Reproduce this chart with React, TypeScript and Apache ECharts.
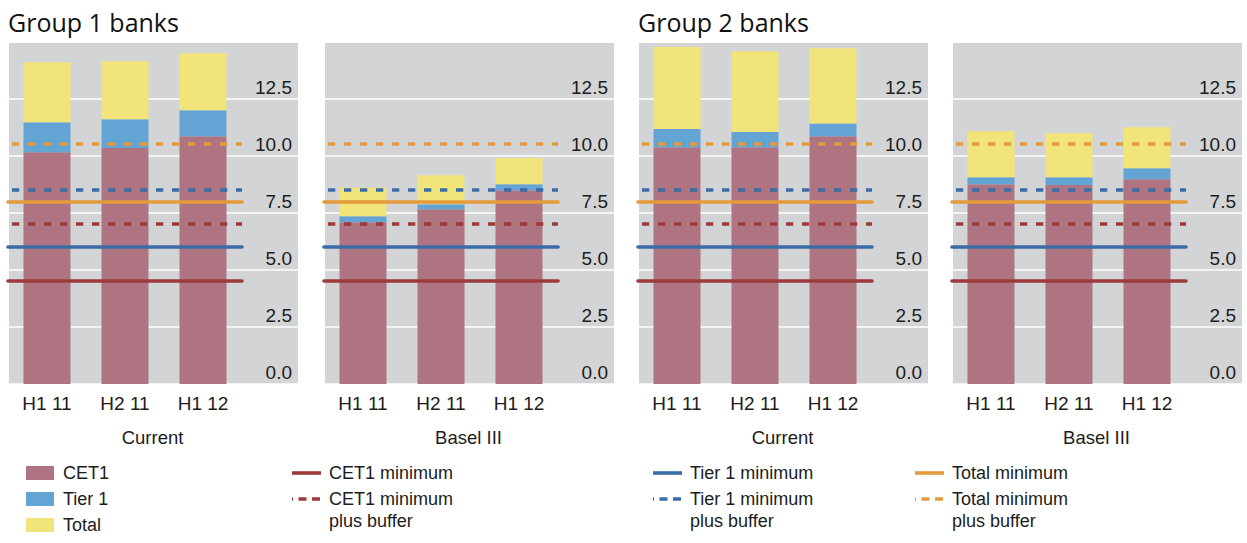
import React, { useEffect, useRef } from "react";
import * as echarts from "echarts";

// ---- data ----
const CATEGORIES = ["H1 11", "H2 11", "H1 12"];
const GROUP_TITLES = ["Group 1 banks", "Group 2 banks"];
const PANEL_NAMES = ["Current", "Basel III", "Current", "Basel III"];
const Y_TICKS = [0, 2.5, 5, 7.5, 10, 12.5];

// cumulative capital ratio levels (%)
const G1_CURRENT_CET1 = [10.15, 10.33, 10.85];
const G1_CURRENT_TIER1 = [11.46, 11.59, 11.99];
const G1_CURRENT_TOTAL = [14.09, 14.13, 14.48];
const G1_BASEL_CET1 = [7.08, 7.65, 8.48];
const G1_BASEL_TIER1 = [7.35, 7.87, 8.75];
const G1_BASEL_TOTAL = [8.6, 9.14, 9.89];
const G2_CURRENT_CET1 = [10.37, 10.37, 10.85];
const G2_CURRENT_TIER1 = [11.16, 11.03, 11.4];
const G2_CURRENT_TOTAL = [14.75, 14.57, 14.7];
const G2_BASEL_CET1 = [8.75, 8.71, 8.97];
const G2_BASEL_TIER1 = [9.05, 9.05, 9.45];
const G2_BASEL_TOTAL = [11.07, 10.98, 11.24];

// regulatory thresholds (%)
const CET1_MIN = 4.5;
const CET1_MIN_BUFFER = 7.0;
const TIER1_MIN = 6.0;
const TIER1_MIN_BUFFER = 8.5;
const TOTAL_MIN = 8.0;
const TOTAL_MIN_BUFFER = 10.5;

const BAR_NAMES = ["CET1", "Tier 1", "Total"];
const LINE_NAMES = ["CET1 minimum", "CET1 minimum\nplus buffer", "Tier 1 minimum", "Tier 1 minimum\nplus buffer", "Total minimum", "Total minimum\nplus buffer"];

// ---- styles ----
const C_CET1 = "#AE7482";
const C_TIER1 = "#63A4D4";
const C_TOTAL = "#F0E47B";
const C_RED = "#9C3A3C";
const C_BLUE = "#3B6CA7";
const C_ORANGE = "#E39B3B";
const C_BG = "#D3D4D6";
const C_TEXT = "#1c1c1c";
const FONT = "Liberation Sans, Arial, sans-serif";

const Y_MAX = 14.93;
const PANEL_LEFTS = [9, 325, 639, 953];
const PANEL_WIDTH = 289;
const GRID_TOP = 43;
const GRID_HEIGHT = 341;

const PANELS = [
  [G1_CURRENT_CET1, G1_CURRENT_TIER1, G1_CURRENT_TOTAL],
  [G1_BASEL_CET1, G1_BASEL_TIER1, G1_BASEL_TOTAL],
  [G2_CURRENT_CET1, G2_CURRENT_TIER1, G2_CURRENT_TOTAL],
  [G2_BASEL_CET1, G2_BASEL_TIER1, G2_BASEL_TOTAL],
];

export default function App() {
  const ref = useRef<HTMLDivElement>(null);
  useEffect(() => {
    document.body.style.margin = "0";
    const chart = echarts.init(ref.current!, null, { renderer: "svg" });

    const grids: any[] = [];
    const xAxes: any[] = [];
    const yAxes: any[] = [];
    const series: any[] = [];

    const dashed = (color: string) => ({ color, width: 3.6, type: [7.3, 8.7], dashOffset: 11.7, cap: "butt" });
    const solid = (color: string) => ({ color, width: 3.6, type: "solid", cap: "round" });

    PANEL_LEFTS.forEach((L, p) => {
      // background grid with y labels and white grid lines
      grids.push({ left: L, top: GRID_TOP, width: PANEL_WIDTH, height: GRID_HEIGHT, show: true, backgroundColor: C_BG, borderWidth: 0 });
      xAxes.push({ gridIndex: 2 * p, type: "value", min: 0, max: 1, show: false });
      yAxes.push({
        gridIndex: 2 * p,
        type: "value",
        min: 0,
        max: Y_MAX,
        interval: 2.5,
        position: "right",
        axisLine: { show: false },
        axisTick: { show: false },
        splitLine: { show: true, showMaxLine: false, lineStyle: { color: "#ffffff", width: 1.5 } },
        axisLabel: {
          inside: true,
          align: "right",
          verticalAlign: "bottom",
          margin: 6,
          padding: [0, 0, 2, 0],
          showMaxLabel: false,
          fontSize: 19,
          fontFamily: FONT,
          color: C_TEXT,
          formatter: (v: number) => (Y_TICKS.includes(v) ? v.toFixed(1) : ""),
        },
      });
      // data grid
      grids.push({ left: L - 1, top: GRID_TOP, width: 234, height: GRID_HEIGHT, show: false });
      xAxes.push({
        gridIndex: 2 * p + 1,
        type: "category",
        data: CATEGORIES,
        axisLine: { show: false },
        axisTick: { show: false },
        axisLabel: { fontSize: 19, fontFamily: FONT, color: C_TEXT, margin: 10 },
      });
      yAxes.push({ gridIndex: 2 * p + 1, type: "value", min: 0, max: Y_MAX, show: false });

      const [cet1, tier1, total] = PANELS[p];
      const parts = [cet1, tier1.map((v, i) => v - cet1[i]), total.map((v, i) => v - tier1[i])];
      const colors = [C_CET1, C_TIER1, C_TOTAL];
      parts.forEach((data, k) => {
        const s: any = {
          type: "bar",
          name: BAR_NAMES[k],
          xAxisIndex: 2 * p + 1,
          yAxisIndex: 2 * p + 1,
          stack: "s" + p,
          barWidth: 47,
          data,
          itemStyle: { color: colors[k] },
        };
        if (k === 2) {
          s.markLine = {
            silent: true,
            symbol: ["none", "none"],
            label: { show: false },
            data: [
              { yAxis: CET1_MIN, lineStyle: solid(C_RED) },
              { yAxis: CET1_MIN_BUFFER, lineStyle: dashed(C_RED) },
              { yAxis: TIER1_MIN, lineStyle: solid(C_BLUE) },
              { yAxis: TIER1_MIN_BUFFER, lineStyle: dashed(C_BLUE) },
              { yAxis: TOTAL_MIN, lineStyle: solid(C_ORANGE) },
              { yAxis: TOTAL_MIN_BUFFER, lineStyle: dashed(C_ORANGE) },
            ],
          };
        }
        series.push(s);
      });
    });

    const graphic: any[] = [];
    GROUP_TITLES.forEach((t, g) => {
      graphic.push({
        type: "text",
        x: PANEL_LEFTS[2 * g] - 1,
        y: 22,
        style: { text: t, fontSize: 25, fontFamily: "Open Sans, sans-serif", fill: "#111", verticalAlign: "middle", align: "left" },
      });
    });
    PANEL_NAMES.forEach((t, p) => {
      graphic.push({
        type: "text",
        x: PANEL_LEFTS[p] + PANEL_WIDTH / 2 - 1,
        y: 437,
        style: { text: t, fontSize: 18.5, fontFamily: FONT, fill: C_TEXT, verticalAlign: "middle", align: "center" },
      });
    });
    // legend: bars
    const barColors = [C_CET1, C_TIER1, C_TOTAL];
    BAR_NAMES.forEach((n, i) => {
      const cy = 473 + i * 26;
      graphic.push({ type: "rect", shape: { x: 26, y: cy - 7, width: 28, height: 14 }, style: { fill: barColors[i] } });
      graphic.push({ type: "text", x: 63, y: cy, style: { text: n, fontSize: 18, fontFamily: FONT, fill: C_TEXT, verticalAlign: "middle" } });
    });
    // legend: lines
    const lineCols = [292, 653, 915];
    const lineColors = [C_RED, C_BLUE, C_ORANGE];
    lineCols.forEach((x0, c) => {
      [0, 1].forEach((r) => {
        const cy = 473 + r * 26;
        graphic.push({
          type: "line",
          shape: { x1: x0, y1: cy, x2: x0 + 29, y2: cy },
          style: { stroke: lineColors[c], lineWidth: 3.6, lineDash: r === 1 ? [8, 5.5] : null, lineDashOffset: 6.5 },
        });
        const lines = LINE_NAMES[c * 2 + r].split("\n");
        lines.forEach((ln, j) => {
          graphic.push({ type: "text", x: x0 + 37, y: cy + j * 22, style: { text: ln, fontSize: 18, fontFamily: FONT, fill: C_TEXT, verticalAlign: "middle" } });
        });
      });
    });

    chart.setOption({
      animation: false,
      grid: grids,
      xAxis: xAxes,
      yAxis: yAxes,
      series,
      graphic,
    });
    return () => chart.dispose();
  }, []);
  return <div ref={ref} style={{ width: 1247, height: 543 }} />;
}
